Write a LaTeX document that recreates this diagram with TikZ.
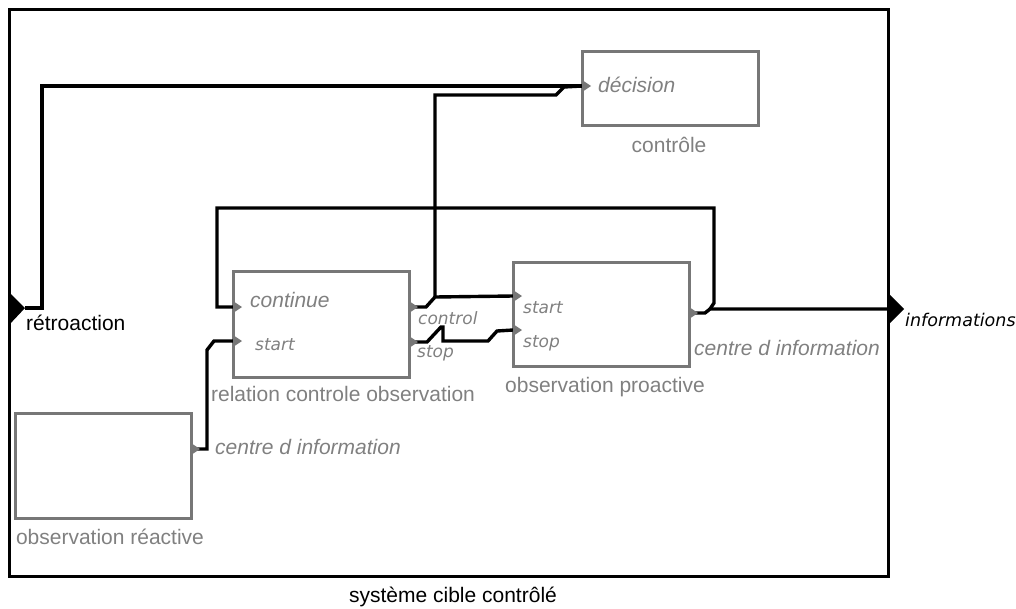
\documentclass[tikz,border=0pt]{standalone}
\usepackage{fontspec}
\setmainfont{Liberation Sans}
\newfontfamily\dejavu{DejaVu Sans}
\usetikzlibrary{positioning}
\definecolor{boxgray}{HTML}{777777}
\definecolor{labelgray}{HTML}{808080}

\begin{document}
\begin{tikzpicture}[x=1pt, y=-1pt,
	unit/.style={draw=boxgray, line width=3pt, inner sep=0pt, minimum width=176pt},
	wire/.style={line width=3.4pt},
	lbl/.style={text=labelgray, inner sep=0pt, font=\fontsize{21}{24}\selectfont},
	portlbl/.style={lbl, font=\fontsize{21}{24}\selectfont\itshape},
	smalllbl/.style={lbl, font=\dejavu\fontsize{17}{19}\selectfont\itshape}]

	\useasboundingbox (0,0) rectangle (1016,608);

	% systeme cible
	\draw[line width=3pt] (9,9) rectangle (888,576);
	\node[inner sep=0pt, font=\fontsize{21}{24}\selectfont] (cible) at (453,597) {système cible contrôlé};

	\fill (9,292) -- (25,308) -- (9,325) -- cycle;
	\fill (888,293) -- (904,309) -- (888,325) -- cycle;
	\coordinate (retro) at (25,308);
	\coordinate (info) at (888,309);
	\node[anchor=west, inner sep=0pt, font=\fontsize{21}{24}\selectfont] (retroLbl) at (26,323) {rétroaction};
	\node[anchor=west, inner sep=0pt, font=\dejavu\fontsize{17.5}{20}\selectfont\itshape] (infoLbl) at (905,320) {informations};

	% sous-systemes
	\node[unit, minimum height=74pt] (controle) at (670,88) {};
	\node[unit, minimum height=106pt] (rco) at (321,324) {};
	\node[unit, minimum height=104pt] (proactive) at (601,314) {};
	\node[unit, minimum height=105pt] (reactive) at (103,465.5) {};

	\node[lbl] at (669,145) {contrôle};
	\node[lbl] at (343,394) {relation controle observation};
	\node[lbl] at (605,387) {observation proactive};
	\node[lbl] at (110,537) {observation réactive};

	% ports
	\coordinate (decIn) at (582,86);
	\coordinate (contIn) at (233,307);
	\coordinate (startIn) at (233,341);
	\coordinate (ctrlOut) at (409,307);
	\coordinate (stopOut) at (409,342);
	\coordinate (pStartIn) at (513,296);
	\coordinate (pStopIn) at (513,330);
	\coordinate (pOut) at (689,313);
	\coordinate (rOut) at (191,449);

	\node[portlbl, anchor=west] at (598,85) {décision};
	\node[portlbl, anchor=west] at (250,300) {continue};
	\node[smalllbl, anchor=west] at (255,345) {start};
	\node[smalllbl, anchor=west] at (418,318) {control};
	\node[smalllbl, anchor=west] at (417,353) {stop};
	\node[smalllbl, anchor=west] at (523,308) {start};
	\node[smalllbl, anchor=west] at (523,343) {stop};
	\node[portlbl, anchor=west] at (694,348) {centre d information};
	\node[portlbl, anchor=west] at (215,447) {centre d information};

	% liaisons
	\draw[wire] (retro) -- (42,308) -- (42,86) -- (decIn);
	\draw[wire] (ctrlOut) -- (426,307) -- (435,297) -- (pStartIn);
	\draw[wire] (435,297) -- (435,95) -- (556,95) -- (564,87) -- (decIn);
	\draw[wire] (stopOut) -- (427,342) -- (441,327) -- (443,327) -- (443,341) -- (488,341) -- (497,331) -- (pStopIn);
	\draw[wire] (pOut) -- (705,313) -- (710,309) -- (info);
	\draw[wire] (710,309) -- (714,303) -- (714,208) -- (217,208) -- (217,307) -- (contIn);
	\draw[wire] (rOut) -- (207,449) -- (207,350) -- (214,341) -- (startIn);

	\foreach \p in {decIn, contIn, startIn, ctrlOut, stopOut, pStartIn, pStopIn, pOut, rOut}
		\fill[boxgray] ([yshift=6pt]\p) -- ++(9,6) -- ++(-9,6) -- cycle;

\end{tikzpicture}
\end{document}
